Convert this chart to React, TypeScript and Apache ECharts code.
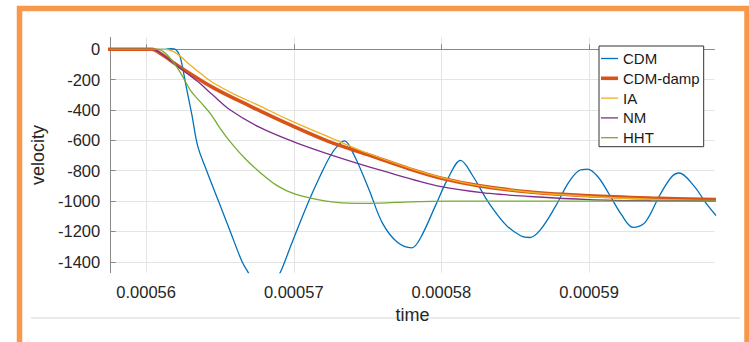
import React, { useEffect, useRef } from "react";
import * as echarts from "echarts";

const SERIES_NAMES = ["CDM", "CDM-damp", "IA", "NM", "HHT"];
const SERIES_COLORS = ["#0072BD", "#D95319", "#EDB120", "#7E2F8E", "#77AC30"];

const CDM_T = [0.000557, 0.0005613, 0.0005617, 0.000562, 0.0005623, 0.0005627, 0.0005631, 0.0005635, 0.0005641, 0.0005649, 0.0005657, 0.0005665, 0.0005669, 0.0005674, 0.0005679, 0.0005684, 0.0005688, 0.0005691, 0.00056978, 0.00057045, 0.00057113, 0.00057181, 0.00057249, 0.00057303, 0.00057344, 0.0005741, 0.0005751, 0.000576, 0.000577, 0.000578, 0.0005786, 0.0005796, 0.0005804, 0.0005813, 0.0005821, 0.0005832, 0.0005844, 0.0005854, 0.000586, 0.0005867, 0.0005877, 0.0005886, 0.0005893, 0.0005899, 0.0005906, 0.0005914, 0.0005922, 0.000593, 0.0005938, 0.0005948, 0.0005956, 0.0005961, 0.0005971, 0.0005979, 0.0005986];
const CDM_V = [0, 0, 4, -2, -48, -240, -432, -640, -800, -1000, -1200, -1400, -1468, -1560, -1610, -1570, -1510, -1468, -1300, -1135, -975, -830, -700, -630, -603, -700, -925, -1144, -1270, -1308, -1240, -1030, -860, -732, -830, -1010, -1160, -1230, -1240, -1190, -1040, -880, -800, -789, -840, -960, -1090, -1174, -1140, -960, -840, -815, -900, -1010, -1095];

const DAMP_T = [0.000557, 0.0005604, 0.000561, 0.0005623, 0.0005646, 0.0005671, 0.0005698, 0.0005723, 0.0005752, 0.0005779, 0.00058, 0.0005826, 0.000586, 0.00059, 0.0005942, 0.0005986];
const DAMP_V = [0, 0, -30, -118, -256, -377, -500, -605, -700, -790, -850, -900, -940, -965, -980, -990];

const IA_T = [0.000557, 0.0005613, 0.0005618, 0.0005623, 0.000563, 0.0005637, 0.0005646, 0.00056605, 0.0005674, 0.00056978, 0.00057255, 0.000575, 0.0005779, 0.00058, 0.0005826, 0.000586, 0.00059, 0.0005942, 0.0005986];
const IA_V = [0, 0, -12, -45, -105, -160, -224, -300, -360, -470, -585, -685, -785, -845, -898, -942, -970, -988, -998];

const NM_T = [0.000557, 0.0005604, 0.000561, 0.0005623, 0.0005635, 0.0005645, 0.0005657, 0.0005677, 0.00057, 0.0005725, 0.000576, 0.00058, 0.0005833, 0.000586, 0.00059, 0.0005942, 0.0005986];
const NM_V = [0, 0, -28, -125, -213, -300, -400, -515, -610, -695, -800, -905, -950, -970, -990, -998, -1000];

const HHT_T = [0.000557, 0.0005608, 0.0005613, 0.0005618, 0.0005623, 0.000563, 0.0005637, 0.0005644, 0.000565, 0.0005657, 0.0005667, 0.0005677, 0.0005689, 0.0005701, 0.0005722, 0.0005742, 0.0005759, 0.0005779, 0.0005806, 0.0005986];
const HHT_V = [0, 0, -25, -80, -150, -270, -350, -430, -520, -610, -720, -810, -900, -955, -1000, -1015, -1013, -1005, -1001, -1000];

const SERIES_T = [CDM_T, DAMP_T, IA_T, NM_T, HHT_T];
const SERIES_V = [CDM_V, DAMP_V, IA_V, NM_V, HHT_V];
const SERIES_WIDTH = [1.3, 3.6, 1.3, 1.3, 1.3];

const X_MIN = 0.0005576;
const X_MAX = 0.0005985;
const Y_MIN = -1472;
const Y_MAX = 79;

const FONT = "'Liberation Sans', Arial, Helvetica, sans-serif";
const AXIS_COLOR = "#8a8a8a";
const GRID_COLOR = "#e4e4e4";
const TEXT_COLOR = "#262626";

// legend sample: a horizontal bar centred in a 17x14 box (moveTo corners fix the box)
const barIcon = (h: number) => {
  const y0 = (7 - h / 2).toFixed(2);
  const y1 = (7 + h / 2).toFixed(2);
  return `path://M0,0M17,14M0,${y0}L17,${y0}L17,${y1}L0,${y1}Z`;
};

export default function App() {
  const ref = useRef<HTMLDivElement>(null);
  useEffect(() => {
    if (!ref.current) return;
    const chart = echarts.init(ref.current, null, { renderer: "svg" });
    const series = SERIES_NAMES.map((name, i) => ({
      name,
      type: "line",
      symbol: "none",
      smooth: 0.35,
      clip: true,
      lineStyle: { color: SERIES_COLORS[i], width: SERIES_WIDTH[i] },
      itemStyle: { color: SERIES_COLORS[i] },
      data: SERIES_T[i].map((t, j) => [t, SERIES_V[i][j]]),
    }));
    chart.setOption({
      animation: false,
      textStyle: { fontFamily: FONT },
      grid: { left: 110.7, right: 34.5, top: 37.3, bottom: 69.3, containLabel: false, outerBoundsMode: "none" },
      legend: {
        orient: "vertical",
        left: 599,
        top: 46,
        itemWidth: 17,
        itemHeight: 14,
        itemGap: 4.8,
        padding: [5, 4, 1.5, 2],
        borderColor: "#333",
        borderWidth: 1,
        borderRadius: 0,
        backgroundColor: "#fff",
        textStyle: { fontSize: 15, lineHeight: 14, color: "#1a1a1a", fontFamily: FONT },
        data: SERIES_NAMES.map((name, i) => ({ name, icon: barIcon(SERIES_WIDTH[i]) })),
      },
      xAxis: {
        type: "value",
        min: X_MIN,
        max: X_MAX,
        splitNumber: 4,
        name: "time",
        nameLocation: "middle",
        nameGap: 24,
        nameTextStyle: { fontSize: 18, color: TEXT_COLOR, fontFamily: FONT },
        axisLine: { show: true, lineStyle: { color: AXIS_COLOR, width: 1 } },
        axisTick: { show: true, inside: true, length: 5, lineStyle: { color: AXIS_COLOR } },
        splitLine: { show: true, showMinLine: false, showMaxLine: false, lineStyle: { color: GRID_COLOR, width: 1 } },
        axisLabel: {
          margin: 11,
          fontSize: 16.5,
          color: TEXT_COLOR,
          fontFamily: FONT,
          showMinLabel: false,
          showMaxLabel: false,
          formatter: (v: number) => Number(v).toFixed(5),
        },
      },
      yAxis: {
        type: "value",
        min: Y_MIN,
        max: Y_MAX,
        splitNumber: 8,
        name: "velocity",
        nameLocation: "middle",
        nameGap: 47,
        nameTextStyle: { fontSize: 18, color: TEXT_COLOR, fontFamily: FONT },
        axisLine: { show: true, lineStyle: { color: AXIS_COLOR, width: 1 } },
        axisTick: { show: true, inside: true, length: 5, lineStyle: { color: AXIS_COLOR } },
        splitLine: { show: true, showMinLine: false, showMaxLine: false, lineStyle: { color: GRID_COLOR, width: 1 } },
        axisLabel: {
          margin: 10.5,
          fontSize: 16.5,
          color: TEXT_COLOR,
          fontFamily: FONT,
          showMinLabel: false,
          showMaxLabel: false,
          formatter: (v: number) => String(Math.round(v)),
        },
      },
      graphic: [
        {
          type: "rect",
          silent: true,
          z: -10,
          shape: { x: 19.5, y: 8.5, width: 727.5, height: 400 },
          style: { fill: "none", stroke: "#F7984B", lineWidth: 5.5 },
        },
        {
          type: "line",
          silent: true,
          z: -10,
          shape: { x1: 31, y1: 318, x2: 740, y2: 318 },
          style: { stroke: "#ebebeb", lineWidth: 2 },
        },
      ],
      series,
    });
    return () => chart.dispose();
  }, []);
  return (
    <div
      ref={ref}
      style={{ position: "fixed", left: 0, top: 0, width: 749, height: 342, background: "#fff" }}
    />
  );
}
